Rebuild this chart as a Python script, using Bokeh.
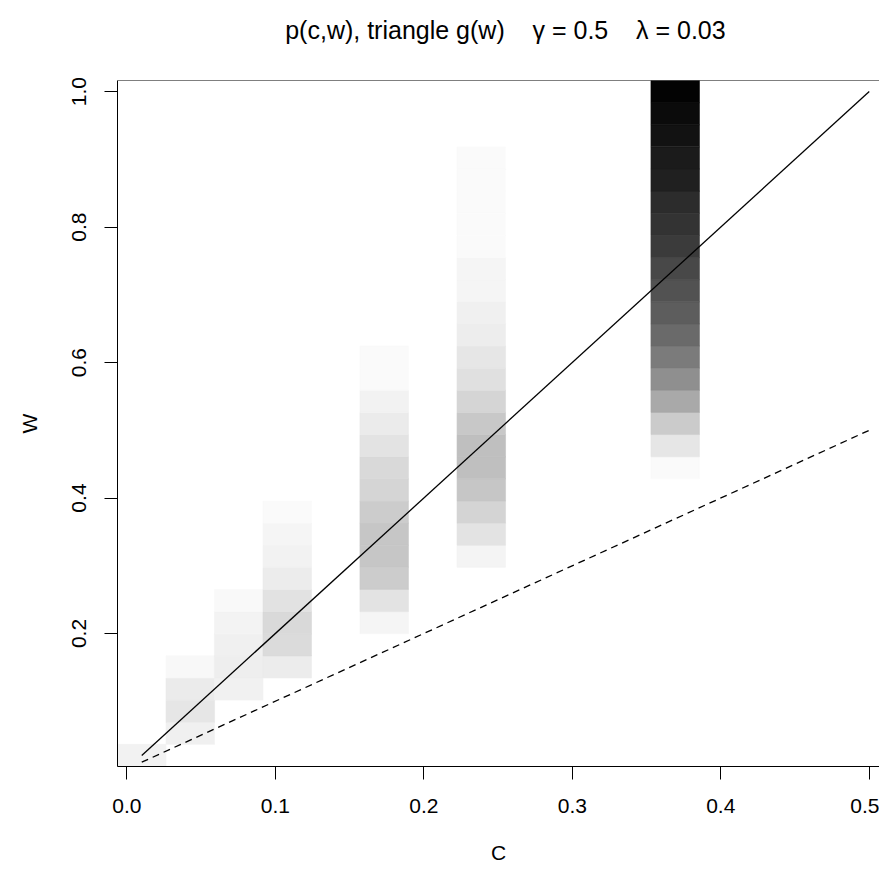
from bokeh.plotting import figure
from bokeh.models import (Range1d, FixedTicker, NumeralTickFormatter, LinearColorMapper,
                          ColumnDataSource, Span, Title)
from bokeh.transform import transform
from bokeh.embed import file_html
from bokeh.resources import INLINE

# ---------------- data ----------------
# w grid (cell centres, rows from bottom)
w_grid = [0.0200, 0.0527, 0.0853, 0.1180, 0.1507, 0.1833, 0.2160, 0.2487, 0.2813, 0.3140,
          0.3467, 0.3793, 0.4120, 0.4447, 0.4773, 0.5100, 0.5427, 0.5753, 0.6080, 0.6407,
          0.6733, 0.7060, 0.7387, 0.7713, 0.8040, 0.8367, 0.8693, 0.9020, 0.9347, 0.9673,
          1.0000]

# columns with non-zero p(c,w): c value, index of first w row, p values (0..255 scale)
col_c = [0.0100, 0.0427, 0.0753, 0.1080, 0.1733, 0.2387, 0.3693]
col_first_row = [0, 1, 3, 4, 6, 9, 13]
p_c1 = [13]
p_c2 = [15, 25, 20, 7]
p_c3 = [14, 17, 15, 12, 6]
p_c4 = [19, 36, 38, 29, 19, 13, 10, 5]
p_c6 = [10, 28, 51, 57, 57, 51, 42, 38, 28, 20, 13, 5, 5]
p_c8 = [11, 28, 43, 57, 64, 64, 55, 42, 31, 25, 18, 15, 10, 10, 5, 5, 5, 5, 5]
p_c12 = [5, 25, 52, 86, 112, 132, 149, 162, 173, 183, 196, 204, 211, 223, 228, 237, 244, 252]
col_p = [p_c1, p_c2, p_c3, p_c4, p_c6, p_c8, p_c12]

# reference lines
line_c = [0.01, 0.5]
line_w_solid = [0.02, 1.0]
line_w_dashed = [0.01, 0.5]

x_ticks = [0.0, 0.1, 0.2, 0.3, 0.4, 0.5]
y_ticks = [0.2, 0.4, 0.6, 0.8, 1.0]

NB = "\u00a0"
title_text = (NB * 2 + "p(c,w), triangle g(w)" + NB * 4 + "\u03b3" + NB + "=" + NB + "0.5"
              + NB * 4 + "\u03bb" + NB + "=" + NB + "0.03")

# ---------------- build table ----------------
cx, cy, cp = [], [], []
for c, r0, vals in zip(col_c, col_first_row, col_p):
    for k, v in enumerate(vals):
        cx.append(c)
        cy.append(w_grid[r0 + k])
        cp.append(v)
src = ColumnDataSource(dict(c=cx, w=cy, p=cp))

cell = 0.03267
FONT = "Liberation Sans"

p = figure(width=879, height=866, output_backend="svg", toolbar_location=None, title=None,
           x_range=Range1d(-0.00633, 0.5069), y_range=Range1d(0.00367, 1.01633),
           min_border_left=117, min_border_right=0, min_border_top=80, min_border_bottom=92)
p.outline_line_color = None
p.grid.visible = False
p.background_fill_color = "white"
p.border_fill_color = "white"

# second (blank) line lifts the title away from the frame
ttl = Title(text=title_text + "\n" + NB, align="center", text_font=FONT, text_font_size="25px",
            text_font_style="normal", text_color="black", standoff=18)
p.add_layout(ttl, "above")

palette = ["#%02x%02x%02x" % (255 - i, 255 - i, 255 - i) for i in range(256)]
mapper = LinearColorMapper(palette=palette, low=0, high=255)

p.rect(x="c", y="w", width=cell, height=cell, source=src,
       fill_color=transform("p", mapper), line_color=transform("p", mapper), line_width=0.6)

p.line(line_c, line_w_solid, line_color="black", line_width=1.3)
p.line(line_c, line_w_dashed, line_color="black", line_width=1.3, line_dash="7 5")

p.add_layout(Span(location=1.01633, dimension="width", line_color="black", line_width=1))

xa = p.below[0]
ya = p.left[0]
for ax in (xa, ya):
    ax.major_tick_out = 13
    ax.major_tick_in = 0
    ax.minor_tick_line_color = None
    ax.axis_line_color = "black"
    ax.major_tick_line_color = "black"
    ax.major_label_text_font = FONT
    ax.major_label_text_font_size = "21px"
    ax.major_label_text_color = "black"
    ax.axis_label_text_font = FONT
    ax.axis_label_text_font_size = "21px"
    ax.axis_label_text_font_style = "normal"
    ax.axis_label_text_color = "black"
    ax.formatter = NumeralTickFormatter(format="0.0")

xa.ticker = FixedTicker(ticks=x_ticks)
ya.ticker = FixedTicker(ticks=y_ticks)
xa.axis_label = "C"
ya.axis_label = "W"
xa.major_label_standoff = 19
xa.axis_label_standoff = 25
ya.major_label_orientation = "vertical"
ya.major_label_standoff = 18
ya.axis_label_standoff = 29

open("out.html", "w").write(file_html(p, INLINE))
